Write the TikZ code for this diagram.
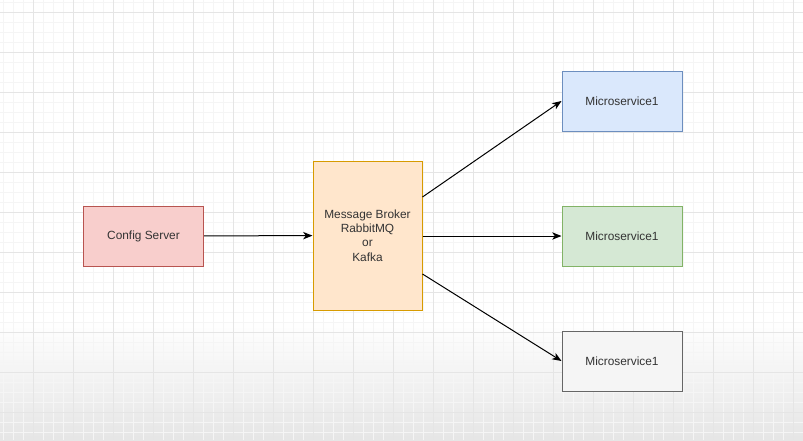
\documentclass[tikz,border=0pt]{standalone}
\usepackage{fontspec}
\setmainfont{Liberation Sans}
\usetikzlibrary{arrows.meta}
\definecolor{txt}{HTML}{333333}
\definecolor{redfill}{HTML}{F8CECC}
\definecolor{redline}{HTML}{B85450}
\definecolor{orafill}{HTML}{FFE6CC}
\definecolor{oraline}{HTML}{D79B00}
\definecolor{blufill}{HTML}{DAE8FC}
\definecolor{bluline}{HTML}{6C8EBF}
\definecolor{grnfill}{HTML}{D5E8D4}
\definecolor{grnline}{HTML}{82B366}
\definecolor{gryfill}{HTML}{F5F5F5}
\definecolor{gryline}{HTML}{666666}
\begin{document}
\begin{tikzpicture}[x=0.75pt,y=-0.75pt,
    box/.style={draw, line width=0.75pt, minimum width=90pt, minimum height=45pt,
      inner sep=0pt, text=txt, align=center, font=\fontsize{8.9}{10.7}\selectfont},
    link/.style={-{Stealth[length=7pt,width=5.5pt,inset=2pt]}, line width=0.75pt}]
    \useasboundingbox (0,0) rectangle (803,440);
    \fill[white] (0,0) rectangle (803,440);
    \fill[top color=white, bottom color=black!10] (0,320) rectangle (803,440);
    \foreach \x in {3,13,...,803} \draw[black!4, line width=0.5pt] (\x,0) -- (\x,440);
    \foreach \y in {2,12,...,440} \draw[black!4, line width=0.5pt] (0,\y) -- (803,\y);
    \foreach \x in {33,73,...,803} \draw[black!10, line width=0.75pt] (\x,0) -- (\x,440);
    \foreach \y in {12,52,...,440} \draw[black!10, line width=0.75pt] (0,\y) -- (803,\y);
    \node[box, fill=redfill, draw=redline] (cfg) at (143.5, 236) {Config Server};
    \node[box, fill=orafill, draw=oraline, minimum width=81.75pt, minimum height=111.75pt] (mb) at (367.5, 235.5)
      {Message Broker\\RabbitMQ\\or\\Kafka};
    \node[box, fill=blufill, draw=bluline] (ms1) at (622, 101) {Microservice1};
    \node[box, fill=grnfill, draw=grnline] (ms2) at (622, 236) {Microservice1};
    \node[box, fill=gryfill, draw=gryline] (ms3) at (622, 361) {Microservice1};
    \draw[link] (cfg) -- (mb);
    \draw[link] (mb.35) -- (ms1.west);
    \draw[link] (mb.east |- ms2.west) -- (ms2.west);
    \draw[link] (mb.-35) -- (ms3.west);
\end{tikzpicture}
\end{document}
